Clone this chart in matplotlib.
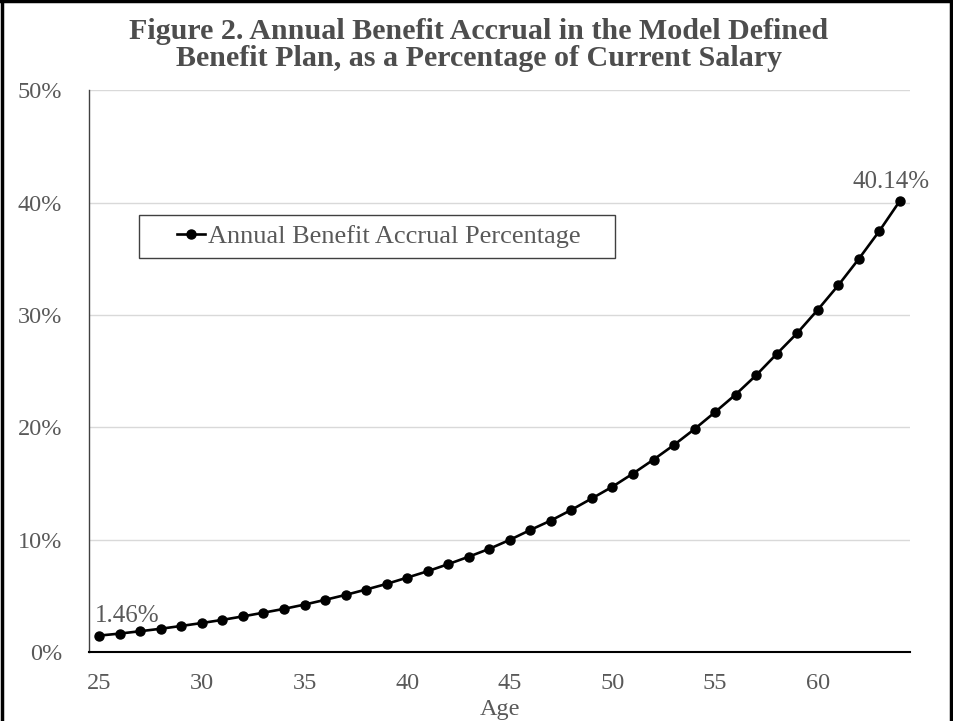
import matplotlib
matplotlib.use("Agg")
import matplotlib.pyplot as plt
from matplotlib.lines import Line2D
from matplotlib.patches import Rectangle
from matplotlib.ticker import FuncFormatter

plt.rcParams['font.family'] = ['Liberation Serif', 'DejaVu Serif']

ages = list(range(25, 65))
accrual_pct = [1.46, 1.64, 1.85, 2.07, 2.32, 2.58, 2.86, 3.17, 3.50, 3.84,
               4.22, 4.64, 5.08, 5.56, 6.06, 6.62, 7.19, 7.82, 8.48, 9.18,
               9.98, 10.86, 11.70, 12.65, 13.67, 14.71, 15.88, 17.12, 18.43, 19.84,
               21.35, 22.91, 24.63, 26.52, 28.38, 30.45, 32.63, 34.98, 37.46, 40.14]
x_ticks = [25, 30, 35, 40, 45, 50, 55, 60]
y_ticks = [0, 10, 20, 30, 40, 50]

title = ("Figure 2. Annual Benefit Accrual in the Model Defined\n"
         "Benefit Plan, as a Percentage of Current Salary")
series_name = "Annual Benefit Accrual Percentage"

gray = '#595959'

fig = plt.figure(figsize=(9.54, 7.21), dpi=100)
ax = fig.add_axes([0.0933, 0.0957, 0.8607, 0.7793])

line, = ax.plot(ages, accrual_pct, color='black', lw=1.9, marker='o', ms=6.5,
                label=series_name, zorder=3)

ax.set_xlim(24.5, 64.5)
ax.set_ylim(0, 50)
ax.set_xticks(x_ticks)
ax.set_yticks(y_ticks)
ax.yaxis.set_major_formatter(FuncFormatter(lambda v, p: f"{v:.0f}%"))
ax.tick_params(axis='both', length=0, labelsize=17.5, labelcolor=gray)
ax.tick_params(axis='y', pad=19.5)
ax.tick_params(axis='x', pad=15)
ax.grid(axis='y', color='#d9d9d9', lw=1)
ax.set_axisbelow(True)

for side in ['top', 'right']:
    ax.spines[side].set_visible(False)
ax.spines['left'].set_color('#404040')
ax.spines['left'].set_linewidth(1)
ax.spines['bottom'].set_color('black')
ax.spines['bottom'].set_linewidth(1.5)

ax.set_xlabel("Age", fontsize=17.5, color=gray, labelpad=4)

# value labels on the first and last points
ax.annotate(f"{accrual_pct[0]:.2f}%", (ages[0], accrual_pct[0]),
            xytext=(-3, 9.5), textcoords='offset points', ha='left', va='baseline',
            fontsize=18, color=gray)
ax.annotate(f"{accrual_pct[-1]:.2f}%", (ages[-1], accrual_pct[-1]),
            xytext=(-6, 6), textcoords='offset points', ha='center', va='bottom',
            fontsize=18, color=gray)

# legend box drawn separately so it can be wider than the entry
ax.add_patch(Rectangle((0.0609, 0.701), 0.580, 0.0765, transform=ax.transAxes,
                       facecolor='white', edgecolor='#404040', lw=1, zorder=4))
leg = ax.legend(loc='center left', bbox_to_anchor=(0.1072, 0.7393), fontsize=19,
                frameon=False, borderpad=0, handlelength=1.06,
                handletextpad=0.12, borderaxespad=0)
leg.set_zorder(5)
for t in leg.get_texts():
    t.set_color(gray)

fig.text(0.502, 0.975, title, ha='center', va='top', fontsize=21.6,
         fontweight='bold', color='#4d4d4d', linespacing=1.02)

# frame around the figure (left, top, right)
for xs, ys in [([0.002, 0.002], [0, 1]), ([0, 1], [0.998, 0.998]),
               ([0.997, 0.997], [0, 1])]:
    fig.add_artist(Line2D(xs, ys, transform=fig.transFigure, color='black', lw=2.5))

fig.savefig("out.png", dpi=100)
